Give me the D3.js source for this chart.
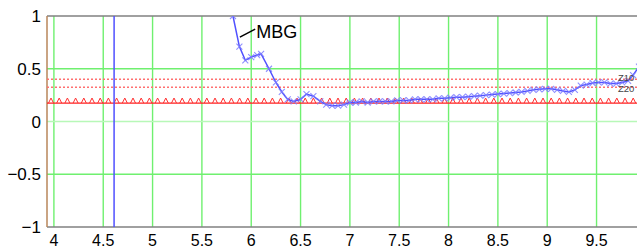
<!DOCTYPE html>
<html>
<head>
<meta charset="utf-8">
<script src="https://cdn.jsdelivr.net/npm/d3@7"></script>
<style>
  body { margin: 0; background: #fff; }
  svg { display: block; font-family: "Liberation Sans", Arial, sans-serif; }
</style>
</head>
<body>
<div id="chart"></div>
<script>
// data
var mbgX = [4.55, 4.605, 4.615, 4.7, 4.9, 5.1, 5.3, 5.5, 5.7, 5.75, 5.815, 5.88, 5.94, 6.0, 6.06, 6.1, 6.18, 6.25, 6.31, 6.37,
  6.43, 6.5, 6.56, 6.63, 6.7, 6.76, 6.82, 6.88, 6.94, 7.0, 7.06, 7.12, 7.18, 7.24, 7.3, 7.36, 7.42, 7.48, 7.54, 7.6,
  7.66, 7.72, 7.78, 7.84, 7.9, 7.96, 8.02, 8.08, 8.14, 8.2, 8.26, 8.32, 8.38, 8.44, 8.5, 8.56, 8.62, 8.68, 8.74, 8.8,
  8.86, 8.92, 8.98, 9.04, 9.1, 9.16, 9.22, 9.28, 9.34, 9.4, 9.46, 9.52, 9.58, 9.64, 9.7, 9.76, 9.82, 9.87, 9.93];
var mbgY = [-8, -40, 40, 9, 5, 3.5, 2.6, 2.0, 1.7, 1.45, 1.0, 0.71, 0.58, 0.61, 0.63, 0.64, 0.5, 0.37, 0.28, 0.21,
  0.19, 0.21, 0.26, 0.24, 0.19, 0.16, 0.15, 0.15, 0.16, 0.18, 0.18, 0.19, 0.18, 0.19, 0.19, 0.19, 0.19, 0.2, 0.2, 0.2,
  0.21, 0.21, 0.21, 0.21, 0.22, 0.22, 0.225, 0.23, 0.23, 0.235, 0.24, 0.245, 0.25, 0.255, 0.26, 0.265, 0.27, 0.275, 0.28, 0.29,
  0.3, 0.305, 0.31, 0.31, 0.3, 0.29, 0.28, 0.3, 0.34, 0.35, 0.365, 0.37, 0.37, 0.36, 0.36, 0.37, 0.385, 0.44, 0.52];
var dashedLevels = [0.4, 0.325];
var dashedLabels = ["Z10", "Z20"];
var triangleLevel = [0.175];
var xTicks = [4, 4.5, 5, 5.5, 6, 6.5, 7, 7.5, 8, 8.5, 9, 9.5];
var yTicks = [1, 0.5, 0, -0.5, -1];
var labelText = "MBG";

var W = 637, H = 250;
var margin = { top: 16, right: 0, bottom: 23, left: 47 };
var svg = d3.select("#chart").append("svg").attr("width", W).attr("height", H);

var x = d3.scaleLinear().domain([3.93, 9.91]).range([margin.left, W - margin.right]);
var y = d3.scaleLinear().domain([-1, 1]).range([H - margin.bottom, margin.top]);

svg.append("defs").append("clipPath").attr("id", "plotclip")
  .append("rect")
  .attr("x", margin.left).attr("y", margin.top)
  .attr("width", W - margin.left - margin.right)
  .attr("height", H - margin.top - margin.bottom);

// grid
svg.append("g").selectAll("line").data(xTicks).enter().append("line")
  .attr("x1", function(d) { return x(d); }).attr("x2", function(d) { return x(d); })
  .attr("y1", margin.top).attr("y2", H - margin.bottom)
  .attr("stroke", "#6ff06f").attr("stroke-width", 1.4);
svg.append("g").selectAll("line").data([0.5, 0, -0.5]).enter().append("line")
  .attr("x1", margin.left).attr("x2", W)
  .attr("y1", function(d) { return y(d); }).attr("y2", function(d) { return y(d); })
  .attr("stroke", function(d) { return d === 0 ? "#b8f8b8" : "#6ff06f"; })
  .attr("stroke-width", 1.4);

// frame
svg.append("line").attr("x1", margin.left).attr("x2", W).attr("y1", y(1)).attr("y2", y(1))
  .attr("stroke", "#808080").attr("stroke-width", 1.5);
svg.append("line").attr("x1", margin.left).attr("x2", W).attr("y1", y(-1)).attr("y2", y(-1))
  .attr("stroke", "#808080").attr("stroke-width", 1.5);
svg.append("line").attr("x1", margin.left).attr("x2", margin.left).attr("y1", y(1)).attr("y2", y(-1))
  .attr("stroke", "#b8865a").attr("stroke-width", 1.5);

var plot = svg.append("g").attr("clip-path", "url(#plotclip)");

// dashed limit lines
plot.selectAll(".dash").data(dashedLevels).enter().append("line")
  .attr("class", "dash")
  .attr("x1", margin.left).attr("x2", W)
  .attr("y1", function(d) { return y(d); }).attr("y2", function(d) { return y(d); })
  .attr("stroke", "#ff7070").attr("stroke-width", 1.5)
  .attr("stroke-dasharray", "2,2");

// red line with triangles
plot.append("line")
  .attr("x1", margin.left).attr("x2", W)
  .attr("y1", y(triangleLevel[0])).attr("y2", y(triangleLevel[0]))
  .attr("stroke", "#ff2020").attr("stroke-width", 1.3);
var triPos = d3.range(margin.left + 4, W, 8.2);
plot.selectAll(".tri").data(triPos).enter().append("path")
  .attr("class", "tri")
  .attr("d", function(d) {
    var b = y(triangleLevel[0]);
    return "M" + (d - 2.5) + "," + b + "L" + d + "," + (b - 5) + "L" + (d + 2.5) + "," + b;
  })
  .attr("fill", "none").attr("stroke", "#ff3030").attr("stroke-width", 1);

// labels for dashed lines
svg.selectAll(".zl").data(dashedLevels).enter().append("text")
  .attr("class", "zl")
  .attr("x", 618).attr("y", function(d, i) { return i === 0 ? 81 : 91.5; })
  .attr("font-size", "9.5px").attr("fill", "#444")
  .text(function(d, i) { return dashedLabels[i]; });

// MBG curve
var pts = mbgX.map(function(d, i) { return [d, mbgY[i]]; });
plot.append("path").datum(pts)
  .attr("d", d3.line().x(function(d) { return x(d[0]); }).y(function(d) { return y(d[1]); }))
  .attr("fill", "none").attr("stroke", "#5050ff").attr("stroke-width", 1.5);
plot.selectAll(".mk").data(pts.filter(function(d) { return d[1] <= 1.05 && d[1] >= -1; })).enter().append("path")
  .attr("class", "mk")
  .attr("d", function(d) {
    var cx = x(d[0]), cy = y(d[1]), s = 3;
    return "M" + (cx - s) + "," + (cy - s) + "L" + (cx + s) + "," + (cy + s) +
      "M" + (cx - s) + "," + (cy + s) + "L" + (cx + s) + "," + (cy - s);
  })
  .attr("stroke", "#7c7cff").attr("stroke-opacity", 0.85).attr("stroke-width", 1.1).attr("fill", "none");

// MBG label with leader
svg.append("line")
  .attr("x1", x(5.885)).attr("y1", y(0.8))
  .attr("x2", x(6.04)).attr("y2", y(0.875))
  .attr("stroke", "#000").attr("stroke-width", 1.5);
svg.append("text").attr("x", x(6.05)).attr("y", y(0.8) + 1)
  .attr("font-size", "18px").attr("fill", "#000").text(labelText);

// axes labels
svg.selectAll(".yl").data(yTicks).enter().append("text")
  .attr("class", "yl")
  .attr("x", 41).attr("y", function(d) { return y(d); })
  .attr("dy", "0.36em").attr("text-anchor", "end")
  .attr("font-size", "17px").attr("fill", "#000")
  .text(function(d) { return d < 0 ? "\u2212" + Math.abs(d) : String(d); });
svg.selectAll(".xl").data(xTicks).enter().append("text")
  .attr("class", "xl")
  .attr("x", function(d) { return x(d); }).attr("y", 246)
  .attr("text-anchor", "middle")
  .attr("font-size", "16px").attr("fill", "#000")
  .text(function(d) { return String(d); });
</script>
</body>
</html>
